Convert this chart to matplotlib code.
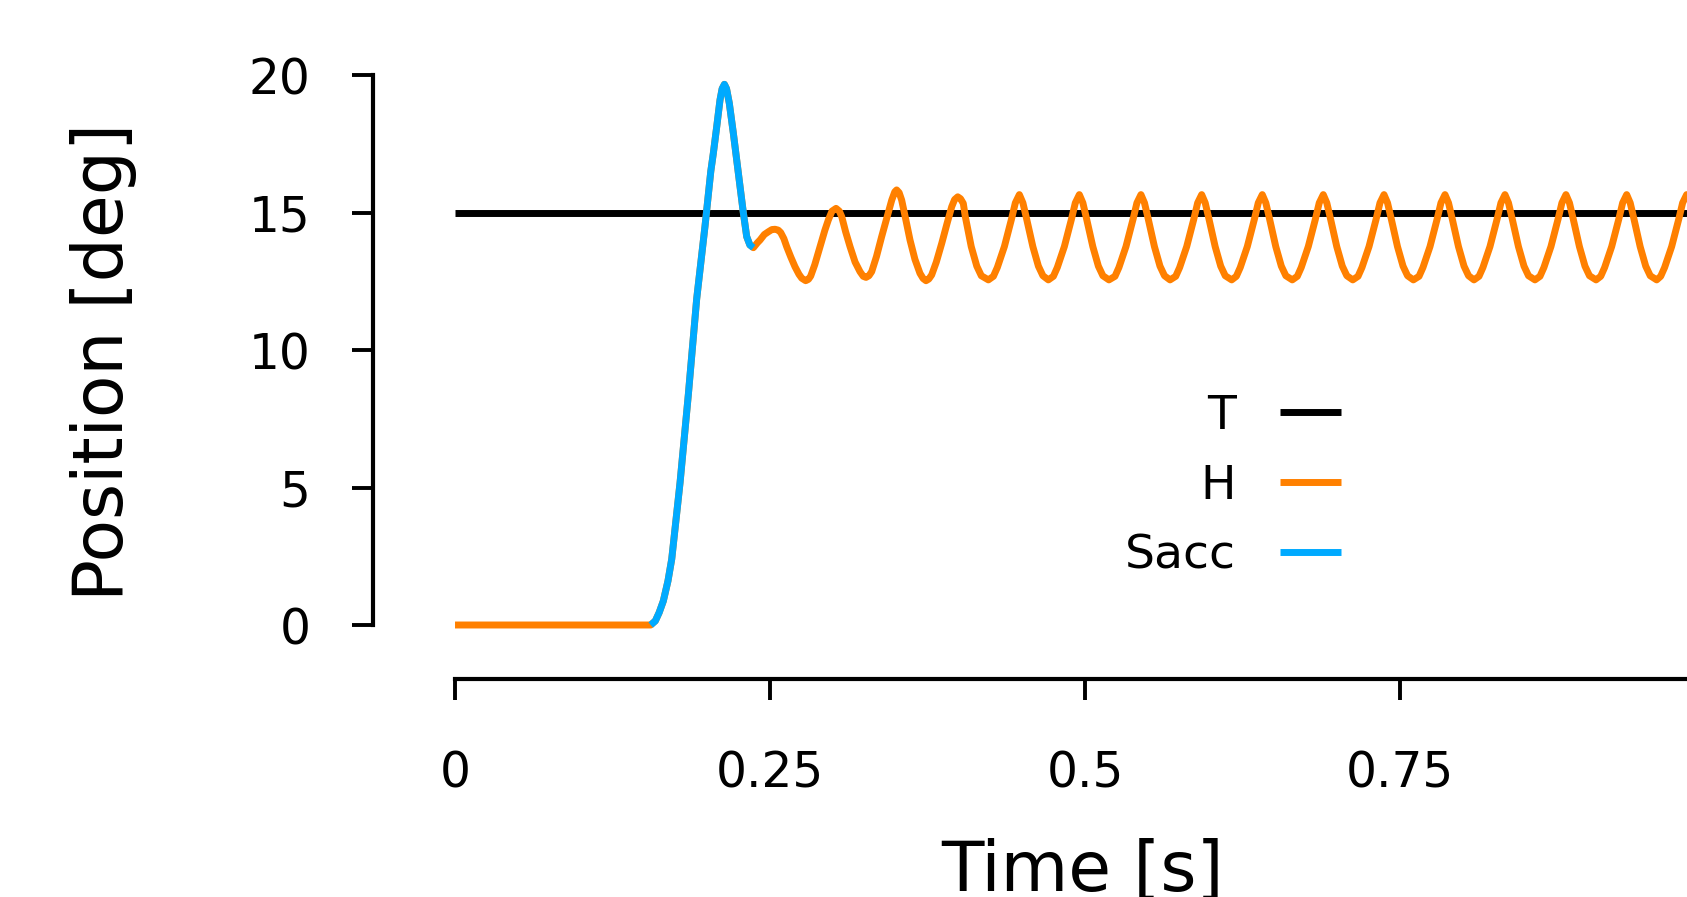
import matplotlib
matplotlib.use("Agg")
import matplotlib.pyplot as plt

# target
t_target = [0.0, 1.05]
v_target = [15.0, 15.0]

# head before saccade
t_pre = [0.0, 0.1553]
v_pre = [0.0, 0.0]

# saccade
t_sacc = [0.1553, 0.1590, 0.1620, 0.1653, 0.1690, 0.1720, 0.1786, 0.1852, 0.1918,
          0.1984, 0.2030, 0.2050, 0.2077, 0.2103, 0.2120, 0.2138, 0.2155, 0.2177,
          0.2209, 0.2249, 0.2288, 0.2315, 0.2340, 0.2368]
v_sacc = [0.0, 0.15, 0.45, 0.87, 1.6, 2.4, 5.18, 8.39, 11.86,
          14.5, 16.5, 17.15, 18.12, 19.09, 19.5, 19.66, 19.5, 18.97,
          17.88, 16.42, 15.0, 14.12, 13.82, 13.72]

# head after saccade
t_post = [0.2368, 0.2400, 0.2421, 0.2455, 0.2487, 0.2515, 0.2540, 0.2565, 0.2585, 0.2610,
          0.2632, 0.2665, 0.2698, 0.2730, 0.2752, 0.2783, 0.2805, 0.2823, 0.2855, 0.2897,
          0.2935, 0.2963, 0.2992, 0.3024, 0.3050, 0.3069, 0.3100, 0.3135, 0.3175, 0.3214,
          0.3240, 0.3262, 0.3285, 0.3307, 0.3345, 0.3386, 0.3430, 0.3466, 0.3490, 0.3505,
          0.3525, 0.3545, 0.3575, 0.3611, 0.3650, 0.3690, 0.3715, 0.3738, 0.3760, 0.3783,
          0.3820, 0.3863, 0.3905, 0.3942, 0.3965, 0.3990, 0.4012, 0.4034, 0.4050, 0.4097,
          0.4141, 0.4177,
          0.4233, 0.4273, 0.4304, 0.4360, 0.4416, 0.4447, 0.4479, 0.4507, 0.4535, 0.4586, 0.4630, 0.4666,
          0.4709, 0.4749, 0.4780, 0.4836, 0.4892, 0.4923, 0.4955, 0.4983, 0.5011, 0.5062, 0.5106, 0.5142,
          0.5190, 0.5238, 0.5269, 0.5325, 0.5381, 0.5412, 0.5444, 0.5472, 0.5500, 0.5551, 0.5595, 0.5631,
          0.5675, 0.5720, 0.5751, 0.5807, 0.5863, 0.5894, 0.5926, 0.5954, 0.5982, 0.6033, 0.6077, 0.6113,
          0.6164, 0.6201, 0.6232, 0.6288, 0.6344, 0.6375, 0.6407, 0.6435, 0.6463, 0.6514, 0.6558, 0.6594,
          0.6645, 0.6685, 0.6716, 0.6772, 0.6828, 0.6859, 0.6891, 0.6919, 0.6947, 0.6998, 0.7042, 0.7078,
          0.7125, 0.7167, 0.7198, 0.7254, 0.7310, 0.7341, 0.7373, 0.7401, 0.7429, 0.7480, 0.7524, 0.7560,
          0.7606, 0.7651, 0.7682, 0.7738, 0.7794, 0.7825, 0.7857, 0.7885, 0.7913, 0.7964, 0.8008, 0.8044,
          0.8087, 0.8127, 0.8158, 0.8214, 0.8270, 0.8301, 0.8333, 0.8361, 0.8389, 0.8440, 0.8484, 0.8520,
          0.8571, 0.8611, 0.8642, 0.8698, 0.8754, 0.8785, 0.8817, 0.8845, 0.8873, 0.8924, 0.8968, 0.9004,
          0.9056, 0.9093, 0.9124, 0.9180, 0.9236, 0.9267, 0.9299, 0.9327, 0.9355, 0.9406, 0.9450, 0.9486,
          0.9537, 0.9569, 0.9600, 0.9656, 0.9712, 0.9743, 0.9775, 0.9803, 0.9831, 0.9882, 0.9926, 0.9962,
          1.0018, 1.0051, 1.0082, 1.0138, 1.0194, 1.0225, 1.0257, 1.0285, 1.0313, 1.0364, 1.0408, 1.0444,
          1.0500]
v_post = [13.72, 13.9, 14.0, 14.2, 14.30, 14.38, 14.39, 14.36, 14.27, 14.05,
          13.76, 13.38, 13.03, 12.75, 12.61, 12.52, 12.57, 12.69, 13.1, 13.76,
          14.35, 14.73, 15.05, 15.15, 15.05, 14.85, 14.3, 13.76, 13.2, 12.85,
          12.68, 12.64, 12.7, 12.85, 13.4, 14.12, 14.85, 15.45, 15.75, 15.82,
          15.72, 15.45, 14.8, 14.0, 13.3, 12.79, 12.6, 12.52, 12.58, 12.73,
          13.2, 13.88, 14.6, 15.21, 15.47, 15.57, 15.5, 15.33, 14.85, 13.76,
          13.05, 12.7,
          12.55, 12.68, 13.0, 13.76, 14.75, 15.35, 15.65, 15.35, 14.8, 13.76, 13.05, 12.7,
          12.55, 12.68, 13.0, 13.76, 14.75, 15.35, 15.65, 15.35, 14.8, 13.76, 13.05, 12.7,
          12.55, 12.68, 13.0, 13.76, 14.75, 15.35, 15.65, 15.35, 14.8, 13.76, 13.05, 12.7,
          12.55, 12.68, 13.0, 13.76, 14.75, 15.35, 15.65, 15.35, 14.8, 13.76, 13.05, 12.7,
          12.55, 12.68, 13.0, 13.76, 14.75, 15.35, 15.65, 15.35, 14.8, 13.76, 13.05, 12.7,
          12.55, 12.68, 13.0, 13.76, 14.75, 15.35, 15.65, 15.35, 14.8, 13.76, 13.05, 12.7,
          12.55, 12.68, 13.0, 13.76, 14.75, 15.35, 15.65, 15.35, 14.8, 13.76, 13.05, 12.7,
          12.55, 12.68, 13.0, 13.76, 14.75, 15.35, 15.65, 15.35, 14.8, 13.76, 13.05, 12.7,
          12.55, 12.68, 13.0, 13.76, 14.75, 15.35, 15.65, 15.35, 14.8, 13.76, 13.05, 12.7,
          12.55, 12.68, 13.0, 13.76, 14.75, 15.35, 15.65, 15.35, 14.8, 13.76, 13.05, 12.7,
          12.55, 12.68, 13.0, 13.76, 14.75, 15.35, 15.65, 15.35, 14.8, 13.76, 13.05, 12.7,
          12.55, 12.68, 13.0, 13.76, 14.75, 15.35, 15.65, 15.35, 14.8, 13.76, 13.05, 12.7,
          12.55, 12.68, 13.0, 13.76, 14.75, 15.35, 15.65, 15.35, 14.8, 13.76, 13.05, 12.7,
          12.55]

x_ticks = [0, 0.25, 0.5, 0.75, 1.0]
x_tick_labels = ["0", "0.25", "0.5", "0.75", "1"]
y_ticks = [0, 5, 10, 15, 20]
y_tick_labels = ["0", "5", "10", "15", "20"]

ORANGE = "#ff8000"
BLUE = "#00aaff"
LW = 5

fig = plt.figure(figsize=(16.87, 8.97), dpi=100)
W, H = 1687, 897
# axes placed in pixels: left spine at x=373, bottom spine at y=679, top (y=20) at y=75
ax = fig.add_axes([373 / W, (H - 679) / H, (W - 373) / W, (679 - 75) / H])

t_head = t_pre + t_sacc + t_post
v_head = v_pre + v_sacc + v_post

style = dict(lw=LW, solid_capstyle="butt", solid_joinstyle="round")
ax.plot(t_target, v_target, color="black", label="T", **style)
ax.plot(t_head, v_head, color=ORANGE, label="H", **style)
ax.plot(t_sacc, v_sacc, color=BLUE, label="Sacc", **style)

for s in ["top", "right"]:
    ax.spines[s].set_visible(False)
ax.spines["left"].set_bounds(0, 20)
ax.spines["bottom"].set_bounds(0, 1.05)
for s in ["left", "bottom"]:
    ax.spines[s].set_linewidth(3)

ax.set_xticks(x_ticks)
ax.set_xticklabels(x_tick_labels)
ax.set_yticks(y_ticks)
ax.set_yticklabels(y_tick_labels)
ax.tick_params(axis="both", labelsize=35, length=15, width=2.8)
ax.tick_params(axis="y", pad=30)
ax.tick_params(axis="x", pad=36)

# limits after the ticks, set_xticks widens the view otherwise
ax.set_xlim(-0.0651, (W - 455) / 1260)
ax.set_ylim(-(679 - 625) / 27.5, 20)

ax.set_ylabel("Position [deg]", fontsize=50)
ax.set_xlabel("Time [s]", fontsize=50)
ax.yaxis.set_label_coords(-0.1796, 0.525)
ax.xaxis.set_label_coords(0.5403, -0.263)

ax.legend(loc="center right", bbox_to_anchor=(1341 / W, 1 - 486 / H),
          bbox_transform=fig.transFigure, frameon=False, markerfirst=False,
          fontsize=34, handlelength=1.3, handletextpad=0.93, labelspacing=0.52,
          borderpad=0, borderaxespad=0)

fig.savefig("out.png", dpi=100)
